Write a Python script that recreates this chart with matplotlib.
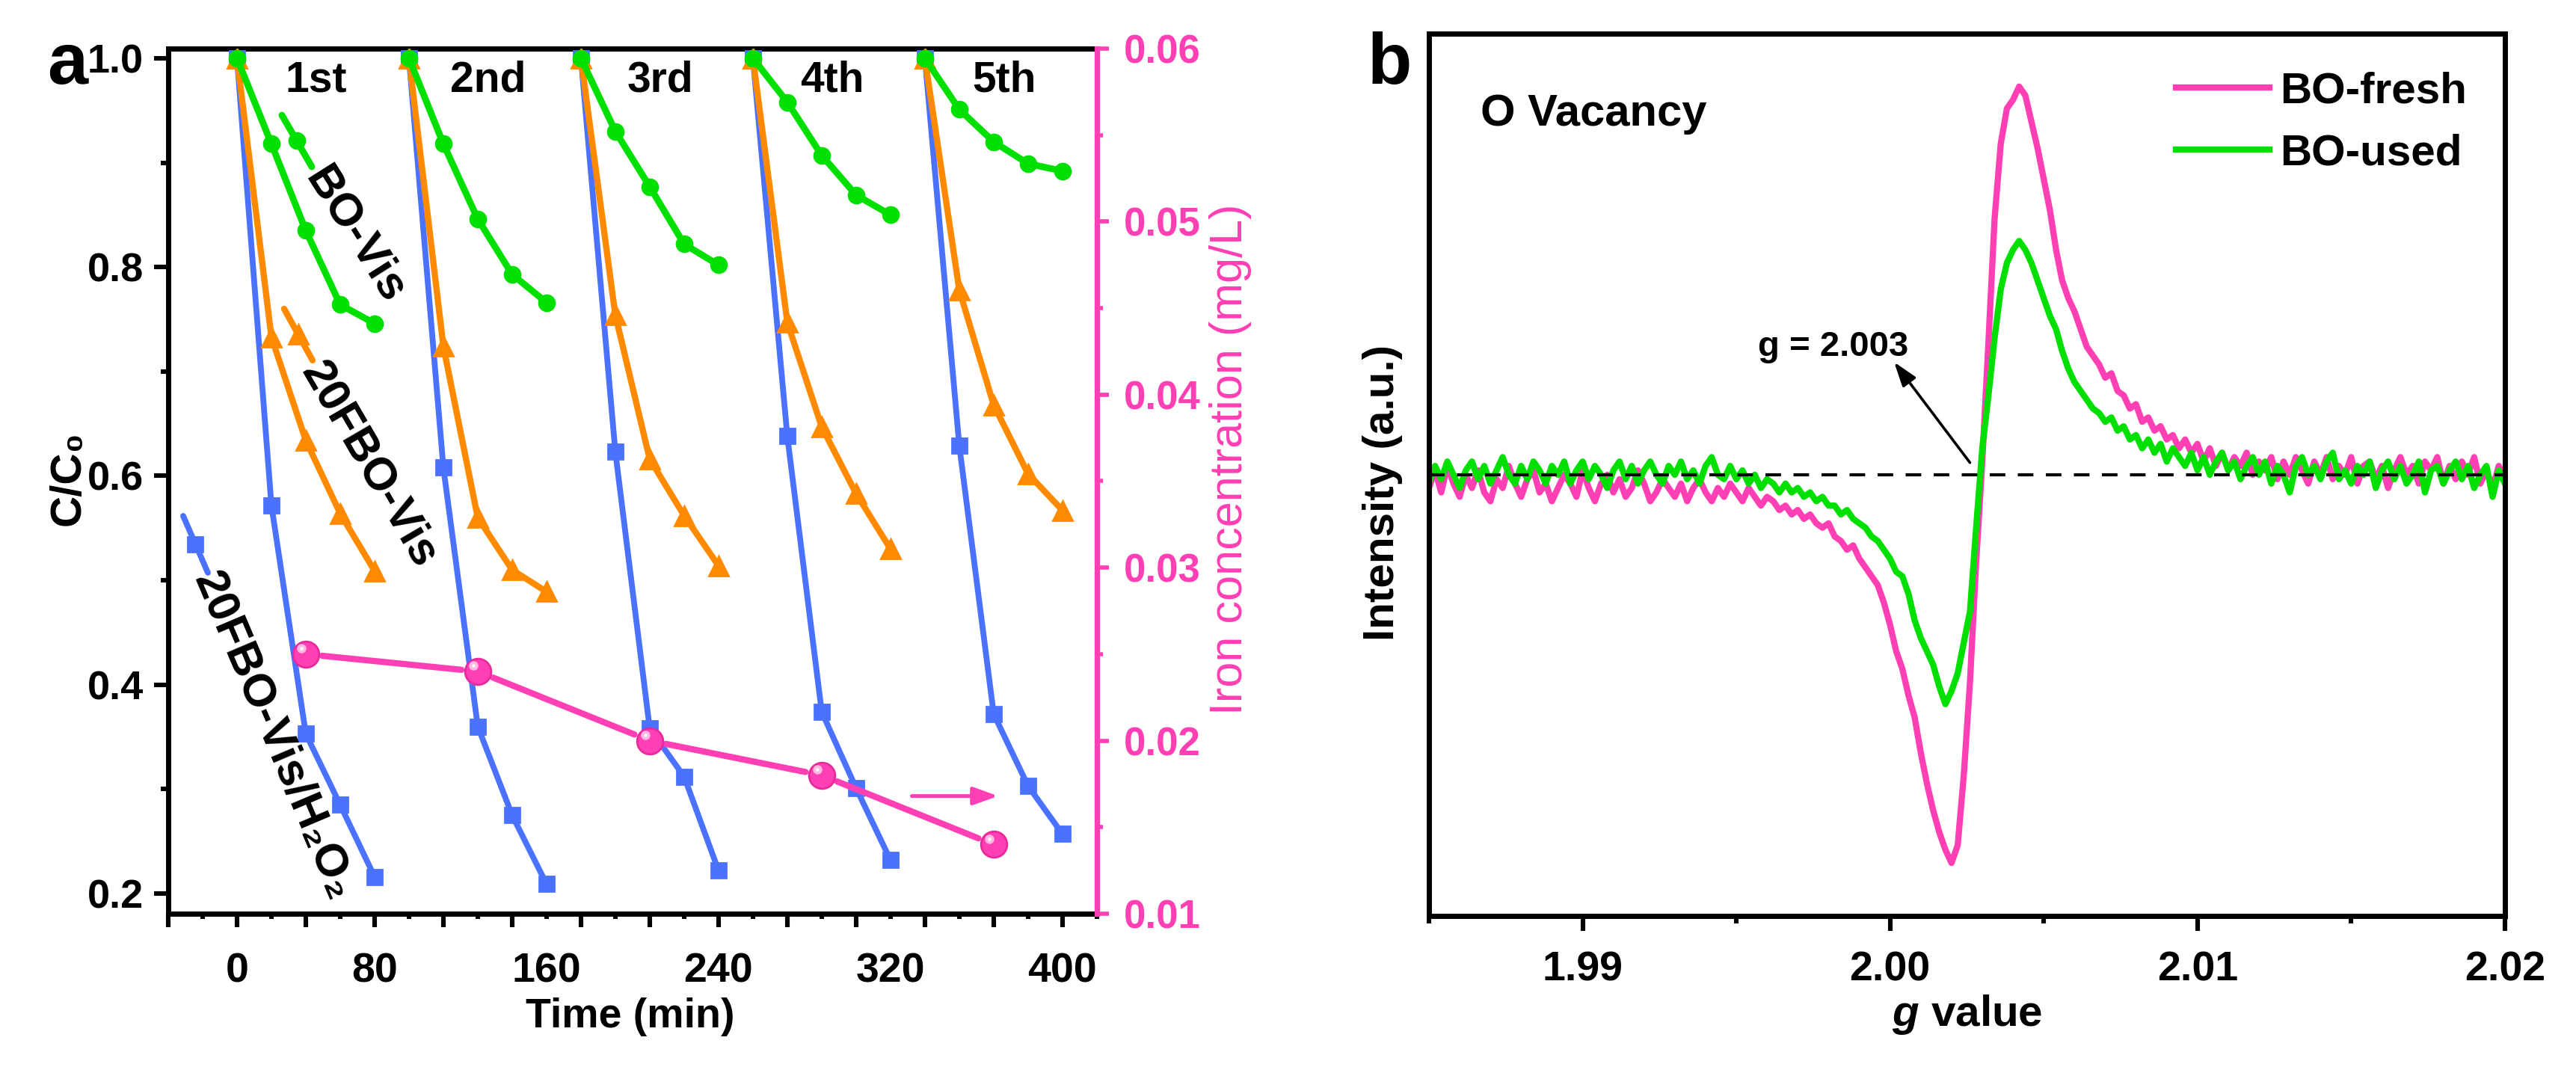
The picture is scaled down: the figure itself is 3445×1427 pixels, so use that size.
import matplotlib
matplotlib.use('Agg')
import matplotlib.pyplot as plt
from matplotlib.ticker import MultipleLocator, FixedLocator, FormatStrFormatter, NullFormatter
from matplotlib.transforms import blended_transform_factory, offset_copy

plt.rcParams['font.family'] = ['Liberation Sans', 'DejaVu Sans']
plt.rcParams['font.weight'] = 'bold'
plt.rcParams['mathtext.fontset'] = 'custom'
plt.rcParams['mathtext.it'] = 'Liberation Sans:italic:bold'
plt.rcParams['mathtext.rm'] = 'Liberation Sans:bold'

PINK = '#ff3fb4'
GREEN = '#00e000'
ORANGE = '#ff8a00'
BLUE = '#4a72ff'

# ---- panel a data: five cycles of 80 min, C/C0 ----
t_min = [0, 20, 40, 60, 80]
cycle_start = [0, 100, 200, 300, 400]
cycle_names = ['1st', '2nd', '3rd', '4th', '5th']
time_tick_pos = [0, 80, 180, 280, 380, 480]
time_tick_labels = ['0', '80', '160', '240', '320', '400']

bo_vis = [[1.0, 0.918, 0.835, 0.764, 0.746],
          [1.0, 0.918, 0.846, 0.793, 0.766],
          [1.0, 0.930, 0.877, 0.822, 0.802],
          [1.0, 0.958, 0.907, 0.869, 0.850],
          [1.0, 0.951, 0.920, 0.899, 0.892]]
fbo_vis = [[1.0, 0.733, 0.634, 0.564, 0.509],
           [1.0, 0.724, 0.560, 0.510, 0.489],
           [1.0, 0.754, 0.616, 0.562, 0.514],
           [1.0, 0.747, 0.647, 0.583, 0.530],
           [1.0, 0.778, 0.668, 0.602, 0.567]]
fbo_h2o2 = [[1.0, 0.572, 0.353, 0.285, 0.216],
            [1.0, 0.608, 0.360, 0.275, 0.209],
            [1.0, 0.623, 0.358, 0.312, 0.222],
            [1.0, 0.638, 0.374, 0.301, 0.232],
            [1.0, 0.629, 0.372, 0.303, 0.257]]

iron_time = [40, 140, 240, 340, 440]
iron_conc = [0.025, 0.024, 0.020, 0.018, 0.014]

# ---- panel b data: EPR spectra (normalised intensity) ----
g_value = [1.9850, 1.9852, 1.9854, 1.9856, 1.9858, 1.9860, 1.9862, 1.9864, 1.9866, 1.9868,
           1.9870, 1.9872, 1.9874, 1.9876, 1.9878, 1.9880, 1.9882, 1.9884, 1.9886, 1.9888,
           1.9890, 1.9892, 1.9894, 1.9896, 1.9898, 1.9900, 1.9902, 1.9904, 1.9906, 1.9908,
           1.9910, 1.9912, 1.9914, 1.9916, 1.9918, 1.9920, 1.9922, 1.9924, 1.9926, 1.9928,
           1.9930, 1.9932, 1.9934, 1.9936, 1.9938, 1.9940, 1.9942, 1.9944, 1.9946, 1.9948,
           1.9950, 1.9952, 1.9954, 1.9956, 1.9958, 1.9960,
           1.9962, 1.9964, 1.9966, 1.9968, 1.9970, 1.9972, 1.9974, 1.9976, 1.9978, 1.9980,
           1.9982, 1.9984, 1.9986, 1.9988, 1.9990, 1.9992, 1.9994, 1.9996, 1.9998, 2.0000,
           2.0002, 2.0004, 2.0006, 2.0008, 2.0010, 2.0012, 2.0014, 2.0016, 2.0018, 2.0020,
           2.0022, 2.0024, 2.0026, 2.0028, 2.0030, 2.0032, 2.0034, 2.0036, 2.0038, 2.0040,
           2.0042, 2.0044, 2.0046, 2.0048, 2.0050, 2.0052, 2.0054, 2.0056, 2.0058, 2.0060,
           2.0062, 2.0064, 2.0066, 2.0068, 2.0070, 2.0072, 2.0074, 2.0076, 2.0078, 2.0080,
           2.0082, 2.0084, 2.0086, 2.0088, 2.0090, 2.0092, 2.0094, 2.0096, 2.0098, 2.0100,
           2.0102, 2.0104, 2.0106, 2.0108, 2.0110, 2.0112, 2.0114, 2.0116, 2.0118, 2.0120,
           2.0122, 2.0124, 2.0126, 2.0128, 2.0130, 2.0132, 2.0134, 2.0136, 2.0138, 2.0140,
           2.0142, 2.0144, 2.0146, 2.0148, 2.0150, 2.0152, 2.0154, 2.0156, 2.0158, 2.0160,
           2.0162, 2.0164, 2.0166, 2.0168, 2.0170, 2.0172, 2.0174, 2.0176, 2.0178, 2.0180,
           2.0182, 2.0184, 2.0186, 2.0188, 2.0190, 2.0192, 2.0194, 2.0196, 2.0198, 2.0200]
bo_fresh = [-0.03, 0.01, -0.04, 0.02, -0.02, -0.05, 0.0, -0.03, 0.01, -0.04,
            -0.06, -0.01, -0.03, 0.02, -0.02, -0.05, -0.01, 0.01, -0.04, -0.02,
            -0.06, -0.03, 0.0, -0.02, -0.05, 0.01, -0.03, -0.06, -0.02, 0.0,
            -0.04, -0.01, -0.05, -0.03, 0.01, -0.02, -0.06, -0.04, -0.01, -0.03,
            -0.05, -0.02, -0.06, -0.03, -0.01, -0.04, -0.06, -0.03, -0.05, -0.02,
            -0.04, -0.06, -0.03, -0.05, -0.07, -0.05,
            -0.06, -0.08, -0.07, -0.09, -0.08, -0.10, -0.09, -0.11, -0.12, -0.11,
            -0.14, -0.15, -0.17, -0.16, -0.19, -0.21, -0.23, -0.25, -0.29, -0.34,
            -0.40, -0.44, -0.50, -0.55, -0.63, -0.70, -0.76, -0.81, -0.85, -0.88,
            -0.84, -0.68, -0.47, -0.20, 0.03, 0.30, 0.58, 0.75, 0.83, 0.85,
            0.88, 0.86, 0.80, 0.74, 0.67, 0.60, 0.51, 0.44, 0.40, 0.37,
            0.33, 0.29, 0.27, 0.25, 0.22, 0.23, 0.19, 0.18, 0.15, 0.16,
            0.12, 0.13, 0.10, 0.11, 0.08, 0.09, 0.06, 0.08, 0.05, 0.07,
            0.03, 0.06, 0.02, 0.05, 0.01, 0.04, 0.02, 0.05, 0.0, 0.03,
            0.01, 0.04, -0.01, 0.03, 0.0, 0.04, 0.01, -0.02, 0.03, 0.0,
            0.04, -0.01, 0.02, 0.0, 0.04, -0.02, 0.02, 0.03, -0.01, 0.02,
            -0.03, 0.01, 0.04, 0.0, 0.02, -0.02, 0.03, 0.01, 0.04, -0.02,
            0.02, -0.01, 0.03, 0.0, 0.04, -0.02, 0.01, -0.03, 0.02, -0.01]
bo_used = [-0.02, 0.02, -0.01, 0.03, 0.0, -0.03, 0.01, 0.03, -0.01, 0.02,
           -0.02, 0.01, 0.04, 0.0, -0.02, 0.02, -0.01, 0.03, 0.01, -0.02,
           0.02, 0.0, 0.03, -0.02, 0.01, 0.03, -0.01, 0.02, 0.0, -0.03,
           0.01, 0.03, -0.01, 0.02, -0.02, 0.01, 0.03, 0.0, -0.02, 0.02,
           0.0, 0.03, -0.01, 0.01, -0.02, 0.02, 0.04, 0.0, -0.01, 0.02,
           -0.01, 0.01, -0.02, 0.0, -0.03, -0.01,
           -0.02, -0.04, -0.02, -0.04, -0.03, -0.05, -0.04, -0.06, -0.05, -0.07,
           -0.07, -0.09, -0.08, -0.10, -0.11, -0.12, -0.14, -0.15, -0.17, -0.19,
           -0.22, -0.23, -0.27, -0.33, -0.37, -0.40, -0.43, -0.48, -0.52, -0.49,
           -0.45, -0.38, -0.31, -0.12, 0.06, 0.18, 0.31, 0.42, 0.48, 0.51,
           0.53, 0.51, 0.48, 0.44, 0.40, 0.36, 0.33, 0.28, 0.24, 0.21,
           0.19, 0.17, 0.15, 0.14, 0.12, 0.13, 0.10, 0.11, 0.08, 0.09,
           0.06, 0.08, 0.05, 0.07, 0.03, 0.06, 0.04, 0.02, 0.05, 0.01,
           0.04, 0.0, 0.03, 0.05, 0.01, 0.03, -0.01, 0.02, 0.04, 0.0,
           0.03, -0.02, 0.02, 0.0, -0.04, 0.02, 0.04, 0.0, 0.02, -0.01,
           0.03, 0.05, -0.01, 0.01, -0.02, 0.02, 0.0, 0.03, -0.03, 0.01,
           0.03, -0.01, 0.02, -0.02, 0.0, 0.03, -0.04, 0.01, 0.02, -0.02,
           0.01, 0.03, -0.01, 0.02, -0.03, 0.0, 0.02, -0.05, 0.01, -0.02]

fig = plt.figure(figsize=(17.225, 7.135), dpi=200)

# ================= panel a =================
ax = fig.add_axes([0.0653, 0.1437, 0.3605, 0.8108])
ax.set_xlim(-40, 500)
ax.set_ylim(0.1807, 1.0093)

for i in range(5):
    x = [cycle_start[i] + t for t in t_min]
    ax.plot(x, fbo_h2o2[i], color=BLUE, lw=2.8, marker='s', ms=7, zorder=3)
    ax.plot(x, fbo_vis[i], color=ORANGE, lw=3, marker='^', ms=9.5, zorder=4)
    ax.plot(x, bo_vis[i], color=GREEN, lw=3.2, marker='o', ms=7.5, zorder=5)
    ax.text(cycle_start[i] + 46, 0.979, cycle_names[i], ha='center', va='center',
            fontsize=20.5, weight='bold')

ax.xaxis.set_major_locator(MultipleLocator(40))
ax.xaxis.set_minor_locator(MultipleLocator(20))
ax.xaxis.set_major_formatter(NullFormatter())
ax.yaxis.set_major_locator(MultipleLocator(0.2))
ax.yaxis.set_minor_locator(MultipleLocator(0.1))
ax.yaxis.set_major_formatter(FormatStrFormatter('%.1f'))
ax.tick_params(axis='x', which='major', direction='out', length=6.5, width=2.2)
ax.tick_params(axis='x', which='minor', direction='out', length=2.5, width=2.2)
ax.tick_params(axis='y', which='major', direction='out', length=7, width=2.2,
               labelsize=19.5, pad=5)
ax.tick_params(axis='y', which='minor', direction='out', length=3.5, width=2.2)
for lab in ax.get_yticklabels():
    lab.set_fontweight('bold')
for s in ['left', 'top', 'bottom']:
    ax.spines[s].set_linewidth(2.5)
ax.spines['right'].set_visible(False)

trans = blended_transform_factory(ax.transData, ax.transAxes)
for pos, lab in zip(time_tick_pos, time_tick_labels):
    ax.text(pos, -0.0795, lab, transform=trans, ha='center', va='baseline',
            fontsize=20, weight='bold')
ax.text(0.4976, -0.131, 'Time (min)', transform=ax.transAxes, ha='center',
        va='baseline', fontsize=20, weight='bold')
ax.text(-0.107, 0.503, 'C/C\u2080', transform=ax.transAxes, rotation=90,
        ha='center', va='center', fontsize=21, weight='bold')


# curve labels with small keys (Origin style)
def curve_key(x0, y0, x1, y1, color, marker, ms, lw):
    ax.plot([x0, x1], [y0, y1], color=color, lw=lw, transform=ax.transAxes,
            solid_capstyle='round', clip_on=False)
    ax.plot([(x0 + x1) / 2], [(y0 + y1) / 2], color=color, marker=marker, ms=ms,
            transform=ax.transAxes, clip_on=False)


curve_key(0.1224, 0.923, 0.1546, 0.8634, GREEN, 'o', 7.5, 3.2)
curve_key(0.1248, 0.6992, 0.1554, 0.6396, ORANGE, '^', 9.5, 3)
curve_key(0.0161, 0.4598, 0.0427, 0.3941, BLUE, 's', 7, 2.8)
ax.text(0.2013, 0.7839, 'BO-Vis', transform=ax.transAxes, rotation=-57.7,
        rotation_mode='anchor', ha='center', va='center', fontsize=22, weight='bold')
ax.text(0.2158, 0.5186, '20FBO-Vis', transform=ax.transAxes, rotation=-59.7,
        rotation_mode='anchor', ha='center', va='center', fontsize=22, weight='bold')
ax.text(0.1127, 0.2048, '20FBO-Vis/H\u2082O\u2082', transform=ax.transAxes,
        rotation=-67, rotation_mode='anchor', ha='center', va='center',
        fontsize=22, weight='bold')

# right axis: iron concentration
ax2 = ax.twinx()
ax2.set_ylim(0.01, 0.06)
ax2.yaxis.set_major_locator(MultipleLocator(0.01))
ax2.yaxis.set_minor_locator(MultipleLocator(0.005))
ax2.yaxis.set_major_formatter(FormatStrFormatter('%.2f'))
ax2.tick_params(axis='y', which='major', direction='out', length=5.8, width=2,
                colors=PINK, labelsize=19, pad=7)
ax2.tick_params(axis='y', which='minor', direction='out', length=2.9, width=2,
                colors=PINK)
for lab in ax2.get_yticklabels():
    lab.set_fontweight('bold')
for s in ['left', 'top', 'bottom']:
    ax2.spines[s].set_visible(False)
ax2.spines['right'].set_color(PINK)
ax2.spines['right'].set_linewidth(2.6)
ax2.text(1.144, 0.5255, 'Iron concentration (mg/L)', transform=ax.transAxes,
         rotation=90, ha='center', va='center', fontsize=22, weight='normal',
         color=PINK)

# pink line with gaps around the symbols
fig.canvas.draw()
gap = 22
pts = ax2.transData.transform(list(zip(iron_time, iron_conc)))
inv = ax2.transData.inverted()
for (xa, ya), (xb, yb) in zip(pts[:-1], pts[1:]):
    d = ((xb - xa) ** 2 + (yb - ya) ** 2) ** 0.5
    ux, uy = (xb - xa) / d, (yb - ya) / d
    p0 = inv.transform((xa + ux * gap, ya + uy * gap))
    p1 = inv.transform((xb - ux * gap, yb - uy * gap))
    ax2.plot([p0[0], p1[0]], [p0[1], p1[1]], color=PINK, lw=3,
             solid_capstyle='round')
ax2.plot(iron_time, iron_conc, ls='none', marker='o', ms=12.5, color=PINK,
         mec='#e82a9c', mew=1)
hl = offset_copy(ax2.transData, fig=fig, x=-2.2, y=2.8, units='points')
ax2.plot(iron_time, iron_conc, ls='none', marker='o', ms=4.5, color='#ffb8e2',
         mec='none', transform=hl)
ax2.plot(iron_time, iron_conc, ls='none', marker='o', ms=1.6, color='white',
         mec='none', transform=hl)
ax2.annotate('', xy=(445, 0.0168), xytext=(390, 0.0168),
             arrowprops=dict(arrowstyle='-|>,head_length=0.5,head_width=0.18',
                             color=PINK, lw=1.8, mutation_scale=20))

fig.text(0.0261, 0.9215, 'a', fontsize=35, weight='bold', ha='center', va='baseline')

# ================= panel b =================
bx = fig.add_axes([0.5547, 0.1416, 0.4177, 0.8269])
bx.set_xlim(1.985, 2.02)
bx.set_ylim(-1, 1)
bx.plot(g_value, bo_fresh, color=PINK, lw=3, label='BO-fresh')
bx.plot(g_value, bo_used, color=GREEN, lw=3, label='BO-used')
bx.axhline(0, color='k', lw=1.5, ls=(0, (5, 4)), zorder=5)

bx.xaxis.set_major_locator(FixedLocator([1.99, 2.00, 2.01, 2.02]))
bx.xaxis.set_minor_locator(FixedLocator([1.985, 1.995, 2.005, 2.015]))
bx.xaxis.set_major_formatter(FormatStrFormatter('%.2f'))
bx.set_yticks([])
bx.tick_params(axis='x', which='major', direction='out', length=7.2, width=2.2,
               labelsize=20, pad=9.5)
bx.tick_params(axis='x', which='minor', direction='out', length=3.6, width=2.2)
for lab in bx.get_xticklabels():
    lab.set_fontweight('bold')
for s in bx.spines.values():
    s.set_linewidth(2.5)

bx.text(-0.043, 0.48, 'Intensity (a.u.)', transform=bx.transAxes, rotation=90,
        ha='center', va='center', fontsize=21, weight='bold')
bx.text(0.5, -0.125, r'$\mathit{g}$ value', transform=bx.transAxes, ha='center',
        va='baseline', fontsize=21, weight='bold')
bx.text(0.048, 0.932, 'O Vacancy', transform=bx.transAxes, ha='left', va='top',
        fontsize=21.5, weight='bold')
bx.text(1.99814, 0.29, 'g = 2.003', ha='center', va='center', fontsize=17,
        weight='bold')
bx.annotate('', xy=(2.00005, 0.263), xytext=(2.00268, 0.02),
            arrowprops=dict(arrowstyle='-|>,head_length=0.45,head_width=0.15',
                            color='k', lw=1.3, mutation_scale=22))
bx.legend(loc='upper left', bbox_to_anchor=(0.694, 0.957), frameon=False,
          prop={'size': 21, 'weight': 'bold'}, handlelength=2.15,
          handletextpad=0.25, labelspacing=0.5, borderpad=0, borderaxespad=0)

fig.text(0.5393, 0.9215, 'b', fontsize=35, weight='bold', ha='center', va='baseline')

fig.savefig('out.png', dpi=200)
